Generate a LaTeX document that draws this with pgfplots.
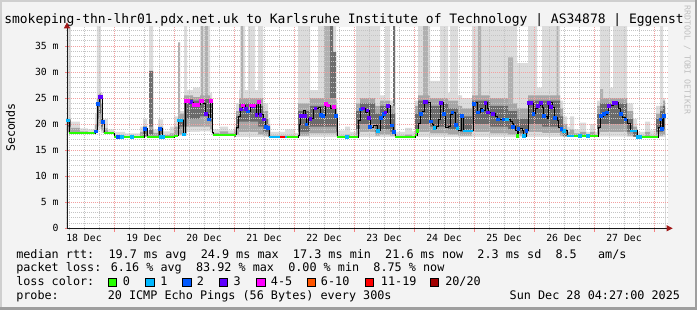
\documentclass[border=0pt]{standalone}
\usepackage{pgfplots}
\pgfplotsset{compat=1.18}
\usepackage{pgfplotstable}
\usepackage{fontspec}
\setmainfont{DejaVu Sans Mono}
\usetikzlibrary{arrows.meta}

\definecolor{bgc}{HTML}{F3F3F3}
\definecolor{shadea}{HTML}{CFCFCF}
\definecolor{shadeb}{HTML}{9E9E9E}
\definecolor{mgrid}{HTML}{F2A0A0}
\definecolor{gridc}{HTML}{C4C4C4}
\definecolor{arrowred}{HTML}{A01818}
\definecolor{s1}{HTML}{DCDCDC}
\definecolor{s2}{HTML}{A6A6A6}
\definecolor{s3}{HTML}{6A6A6A}
\definecolor{smc}{HTML}{B0B0B0}
\definecolor{sdc}{HTML}{6E6E6E}
\definecolor{L0}{HTML}{26FF00}
\definecolor{L1}{HTML}{00B8FF}
\definecolor{L2}{HTML}{0059FF}
\definecolor{L3}{HTML}{5E00FF}
\definecolor{L4}{HTML}{FF00FF}
\definecolor{L6}{HTML}{FF5500}
\definecolor{L11}{HTML}{FF0000}
\definecolor{L20}{HTML}{A10000}
\definecolor{wm}{HTML}{C0C0C0}

\newcommand\fT{\fontsize{9.73}{11}\selectfont}
\newcommand\fL{\fontsize{8.84}{10}\selectfont}
\newcommand\fA{\fontsize{7.35}{8.5}\selectfont}
\newcommand\fU{\fontsize{8.7}{10}\selectfont}
\newcommand\fW{\fontsize{6.2}{7}\selectfont}

% smoke: time in hours from 18 Dec 00:00, values in ms
\pgfplotstableread{
t l1 l2 l3 u3 u2 u1
5.2 18.3 18.5 19.5 20.7 21.0 40
6.8 18.3 18.3 18.3 18.3 19.3 20.5
10.4 18.3 18.3 18.3 18.3 18.6 19.2
13.6 18.3 18.3 18.3 18.3 18.3 19.0
16.4 18.3 18.5 18.7 19.0 20.0 22.0
17.2 18.5 19.5 21.0 24.2 25.0 40
18.0 19.0 20.0 22.0 25.6 26.0 40
18.8 18.3 18.8 19.5 21.0 24.0 26.0
19.6 18.3 18.3 18.3 18.5 19.2 21.0
21.6 18.3 18.3 18.3 18.3 18.5 19.0
24.0 17.5 17.5 17.5 17.5 17.8 18.5
28.4 17.5 17.5 17.5 17.5 17.7 18.2
34.4 17.5 17.5 17.5 17.5 18.5 19.5
35.6 17.5 17.5 17.8 19.2 19.6 21.0
37.2 17.5 17.5 17.5 17.6 18.0 18.8
38.0 17.5 17.6 18.0 19.0 19.5 40
39.6 17.5 17.5 17.5 17.6 18.3 19.0
41.6 17.5 17.5 17.6 19.1 19.5 20.9
43.6 17.5 17.5 17.5 17.5 17.9 18.6
46.4 17.5 17.5 17.5 17.5 18.2 19.5
48.0 17.5 17.5 17.5 18.0 19.5 21.5
49.6 17.8 18.0 19.0 21.0 21.5 22.0
50.4 17.8 18.0 19.5 21.0 22.0 22.5
52.0 17.8 18.2 19.5 24.8 25.5 40
53.2 18.5 19.5 21.0 24.8 25.5 26.5
55.6 18.5 19.5 21.0 24.5 25.2 27.0
58.4 18.6 19.5 21.5 24.8 25.5 40
62.4 18.4 19.0 20.5 24.6 25.0 26.0
63.2 18.0 18.0 18.0 18.0 18.3 19.0
66.4 18.0 18.0 18.0 18.0 18.6 19.5
69.6 18.0 18.0 18.0 18.0 18.2 18.8
72.0 17.5 17.5 17.5 18.2 18.8 19.5
72.8 17.5 18.0 19.0 21.5 22.5 24.0
74.0 17.5 18.5 20.5 24.0 25.0 26.5
74.4 17.5 18.5 20.5 24.0 25.0 40
76.4 17.5 18.5 20.5 24.0 25.0 26.5
77.6 17.5 18.5 20.5 24.0 25.0 40
80.4 17.5 18.5 20.5 24.0 25.0 26.5
81.6 17.5 18.0 19.5 23.5 25.0 40
83.6 17.5 17.8 18.5 21.0 22.5 24.0
85.6 17.5 17.5 17.5 19.5 20.0 21.0
86.4 17.5 17.5 17.5 17.5 17.8 18.5
92.4 17.5 17.5 17.5 17.5 17.8 19.0
96.4 17.5 17.5 17.5 17.5 17.7 18.3
97.6 17.5 17.8 18.5 22.5 24.0 40
102.4 17.5 18.2 19.5 23.5 25.0 26.5
105.6 17.5 18.2 19.5 23.5 25.0 40
112.8 17.5 17.8 18.5 21.5 23.0 24.5
113.2 17.5 17.5 17.5 17.5 17.8 18.8
116.4 17.5 17.5 17.5 17.5 18.0 19.5
118.4 17.5 17.5 17.5 17.5 17.7 18.5
120.8 17.5 17.8 19.0 22.5 24.0 40
122.4 17.5 18.5 20.0 24.0 25.0 40
128.4 17.5 17.8 18.5 22.0 23.5 40
130.4 17.5 18.0 19.0 23.5 24.5 25.5
132.4 17.5 18.0 19.0 23.5 24.5 40
134.4 17.5 17.8 18.5 22.0 23.5 24.5
135.6 17.5 17.8 18.5 22.0 23.5 40
136.4 17.5 17.5 17.5 17.5 17.8 18.5
140.4 17.5 17.5 17.5 17.5 18.0 19.3
143.2 17.5 17.5 17.5 17.5 17.7 18.6
144.4 17.5 18.0 19.0 22.0 23.5 24.5
145.6 17.5 18.5 20.0 24.5 25.5 40
150.4 17.5 18.2 19.5 23.5 25.0 28.3
154.4 17.5 18.2 19.5 24.0 25.0 40
157.6 17.5 18.0 19.0 23.0 24.5 26.0
158.4 17.5 18.0 19.0 23.0 24.5 40
161.6 17.5 17.8 18.5 22.0 23.5 25.5
163.2 17.5 17.8 18.5 21.5 23.0 25.0
167.2 17.5 18.5 20.0 24.5 25.5 40
174.4 17.5 18.2 19.5 23.5 25.0 40
181.6 17.5 18.0 19.0 22.5 24.0 40
185.2 17.5 17.8 18.2 21.0 23.0 31.7
189.6 17.5 18.5 20.0 24.5 25.5 40
193.2 17.5 18.5 20.0 24.5 25.5 27.0
195.2 17.5 18.3 19.5 24.5 25.5 40
202.4 17.5 17.8 18.5 21.5 23.0 24.5
203.6 17.5 17.6 17.7 19.0 20.0 21.5
205.2 17.5 17.6 17.7 17.8 18.5 19.5
206.4 17.5 17.6 17.7 17.8 19.0 21.5
208.0 17.5 17.6 17.7 17.7 18.2 19.0
210.4 17.5 17.6 17.7 17.7 18.5 20.3
212.8 17.5 17.6 17.7 17.7 18.0 18.5
214.4 17.5 17.6 17.7 17.7 18.5 20.0
216.4 17.5 17.6 17.7 17.7 18.0 18.5
217.2 17.6 18.0 19.0 22.0 23.5 24.5
218.4 17.6 18.5 20.0 24.0 25.0 40
222.4 17.6 18.5 20.0 24.0 25.0 27.0
223.6 17.6 18.5 20.0 24.0 25.0 40
229.2 17.5 17.8 18.5 21.0 22.5 24.0
231.6 17.5 17.5 17.6 18.5 19.5 21.0
233.2 17.5 17.5 17.5 17.5 17.8 18.5
236.4 17.5 17.5 17.5 17.5 18.5 20.5
238.4 17.5 17.5 17.5 17.5 17.8 18.8
240.8 17.5 17.8 18.5 21.0 22.0 23.5
242.4 17.5 17.8 18.5 22.5 23.5 40
243.6 17.5 18.0 19.0 23.5 24.5 25.0
244.4 17.5 18.0 19.0 23.5 24.5 25.0
}\smoke

\pgfplotstableread{
t v
5.2 0
49.6 35.7
50.4 0
58.8 40
59.6 0
60.4 40
61.6 0
74.8 40
75.6 0
108.0 40
110.4 0
147.6 40
149.6 0
169.6 40
170.8 0
181.6 32.8
183.6 0
201.0 40
201.7 0
218.4 26.7
219.6 0
244.4 0
}\spkm

\pgfplotstableread{
t v
5.2 0
38.0 30.2
39.6 0
110.4 40
111.6 33.8
112.8 0
135.6 40
136.4 0
244.4 0
}\spkd

\pgfplotstableread{
t v
5.2 20.7
6.0 18.3
16.4 18.6
17.2 23.8
18.0 25.2
19.2 20.4
20.0 18.3
24.0 17.5
36.0 19.1
37.2 17.5
42.0 19.1
43.2 17.5
48.0 17.8
49.6 20.7
51.6 18.0
52.4 24.4
54.4 24.2
55.6 23.7
58.4 24.4
59.6 23.9
60.4 21.9
61.6 20.9
62.4 24.4
63.2 18.4
63.6 18.0
72.8 19.3
73.6 21.4
74.4 22.8
75.2 23.6
76.4 22.9
77.2 22.4
78.4 23.6
79.6 23.4
80.0 23.6
80.8 21.8
81.6 24.2
82.4 21.8
83.6 20.9
84.4 19.4
85.6 19.2
86.0 17.5
97.6 17.9
98.0 20.0
98.4 21.5
99.6 22.6
100.4 21.5
100.8 19.9
101.6 21.0
103.6 22.8
104.4 23.0
105.6 23.2
106.4 21.8
107.2 21.6
108.4 23.8
109.6 23.6
110.4 23.1
111.6 23.3
112.4 21.5
113.2 17.5
121.6 20.8
122.4 22.8
123.2 23.0
124.4 22.2
125.2 22.6
126.0 21.2
126.4 19.4
127.6 19.7
129.2 18.7
130.4 21.2
131.6 21.9
132.4 22.2
133.2 23.5
134.4 20.0
135.2 19.7
135.6 18.5
136.4 17.5
144.4 17.9
145.2 18.7
145.6 20.2
146.4 21.9
147.2 22.4
148.0 24.3
149.2 24.1
150.4 20.5
151.2 20.0
151.6 19.2
152.8 19.5
153.6 20.9
154.4 24.1
155.6 22.0
156.4 19.4
157.6 19.6
158.4 21.9
159.2 22.2
160.4 19.8
161.2 19.2
161.6 18.8
162.8 21.5
163.6 18.7
167.6 23.8
168.4 24.1
169.2 22.2
170.4 23.1
171.2 22.6
172.4 24.1
173.2 23.1
173.6 22.2
175.2 22.0
176.4 21.5
177.2 20.9
182.4 20.6
183.2 20.2
183.6 19.5
184.4 18.7
185.2 17.7
185.6 19.1
187.2 18.8
187.6 17.7
188.8 18.7
189.6 24.1
191.2 24.0
191.6 22.0
192.4 23.0
193.2 23.5
194.4 24.1
195.2 23.3
195.6 21.5
197.2 21.0
197.6 24.1
199.2 23.3
200.0 21.2
201.2 20.8
201.6 19.4
202.8 19.0
203.6 18.7
205.2 17.7
217.6 19.4
218.4 21.5
219.6 21.9
221.2 22.2
221.6 23.5
223.6 24.1
225.6 23.0
226.4 22.0
227.2 21.2
228.4 20.9
229.2 20.2
230.4 18.7
233.2 17.5
241.6 19.4
242.4 20.9
243.2 19.0
243.6 21.5
244.4 21.6
}\med

\pgfplotsset{
  chartgeom/.style={
    at={(50.25pt,61.275pt)}, anchor=south west,
    scale only axis, width=450.75pt, height=150.975pt,
    xmin=5.2, xmax=245.6, ymin=0, ymax=38.64,
  },
  lossmark/.style={only marks, color=#1, mark=square*, mark size=1.0pt, mark options={solid, draw=#1, fill=#1, line width=0pt}},
  lossseg/.style={draw=#1, line width=1.5pt},
}

\begin{document}
\begin{tikzpicture}[x=0.75pt,y=0.75pt]
\useasboundingbox (0,0) rectangle (697,310);
\fill[bgc] (0,0) rectangle (697,310);
\fill[shadea] (0,308) rectangle (697,310);
\fill[shadea] (0,0) rectangle (2,310);
\fill[shadeb] (0,0) rectangle (697,2.5);
\fill[shadeb] (695,0) rectangle (697,310);

\begin{axis}[chartgeom,
  axis lines=left,
  axis line style={draw=black!90, line width=0.6pt, -{Triangle[length=4.5pt,width=4.5pt,color=arrowred]}, shorten >=-3.5pt},
  axis on top,
  axis background/.style={fill=white},
  xtick={24,48,...,240}, xticklabels={},
  minor xtick={6,12,18,30,36,42,54,60,66,78,84,90,102,108,114,126,132,138,150,156,162,174,180,186,198,204,210,222,228,234},
  ytick={0,5,...,35},
  yticklabels={0,5 m,10 m,15 m,20 m,25 m,30 m,35 m},
  minor ytick={1,2,3,4,6,7,8,9,11,12,13,14,16,17,18,19,21,22,23,24,26,27,28,29,31,32,33,34,36,37,38},
  grid=both,
  major grid style={draw=mgrid, line width=0.6pt, dash pattern=on 0.75pt off 0.75pt},
  minor grid style={draw=gridc, line width=0.6pt, dash pattern=on 0.75pt off 0.75pt},
  xtick align=outside, ytick align=center,
  major tick length=2.5pt, minor tick length=1.5pt,
  major tick style={draw=mgrid!80!red, line width=0.6pt},
  minor tick style={draw=gridc, line width=0.6pt},
  extra x ticks={12,36,60,84,108,132,156,180,204,228},
  extra x tick labels={18 Dec,19 Dec,20 Dec,21 Dec,22 Dec,23 Dec,24 Dec,25 Dec,26 Dec,27 Dec},
  extra x tick style={grid=none, major tick length=0pt},
  ticklabel style={font=\fA, text=black},
  yticklabel style={xshift=-1.5pt},
  xticklabel style={yshift=-0.8pt},
]
\addplot[const plot, draw=none, fill=s1] table[x=t,y=u1]{\smoke} \closedcycle;
\addplot[const plot, draw=none, fill=smc] table[x=t,y=v]{\spkm} \closedcycle;
\addplot[const plot, draw=none, fill=sdc] table[x=t,y=v]{\spkd} \closedcycle;
\addplot[const plot, draw=none, fill=s2] table[x=t,y=u2]{\smoke} \closedcycle;
\addplot[const plot, draw=none, fill=s3] table[x=t,y=u3]{\smoke} \closedcycle;
\addplot[const plot, draw=none, fill=s2] table[x=t,y=l3]{\smoke} \closedcycle;
\addplot[const plot, draw=none, fill=s1] table[x=t,y=l2]{\smoke} \closedcycle;
\addplot[const plot, draw=none, fill=white] table[x=t,y=l1]{\smoke} \closedcycle;
\end{axis}

\begin{axis}[chartgeom, hide axis]
\addplot[const plot, draw=black, line width=0.6pt] table[x=t,y=v]{\med};
% loss-free (green) stretches of the median
\addplot[lossseg=L0] coordinates {(6.0,18.3) (16.4,18.3)};
\addplot[lossseg=L0] coordinates {(20.0,18.3) (24.0,18.3)};
\addplot[lossseg=L0] coordinates {(24.0,17.5) (36.0,17.5)};
\addplot[lossseg=L0] coordinates {(37.2,17.5) (42.0,17.5)};
\addplot[lossseg=L0] coordinates {(43.2,17.5) (48.0,17.5)};
\addplot[lossseg=L0] coordinates {(48.0,17.8) (49.6,17.8)};
\addplot[lossseg=L0] coordinates {(63.6,18.0) (72.8,18.0)};
\addplot[lossseg=L0] coordinates {(93.2,17.5) (97.6,17.5)};
\addplot[lossseg=L0] coordinates {(113.2,17.5) (121.6,17.5)};
\addplot[lossseg=L0] coordinates {(136.4,17.5) (144.4,17.5)};
\addplot[lossseg=L0] coordinates {(144.4,17.9) (145.2,17.9)};
\addplot[lossseg=L0] coordinates {(208.0,17.7) (217.6,17.7)};
\addplot[lossseg=L0] coordinates {(233.2,17.5) (241.6,17.5)};
\addplot[lossseg=L1] coordinates {(86.0,17.5) (90.4,17.5)};
\addplot[lossseg=L11] coordinates {(90.4,17.5) (92.4,17.5)};
\addplot[lossseg=L1] coordinates {(92.4,17.5) (93.2,17.5)};
\addplot[lossseg=L1] coordinates {(163.6,18.7) (167.4,18.7)};
\addplot[lossseg=L1] coordinates {(205.2,17.7) (208.0,17.7)};
\addplot[lossseg=L1] coordinates {(230.4,18.7) (233.0,18.7)};
% loss-coloured median points
\addplot[lossmark=L0] coordinates {(145.4,18.7) (185.4,17.7)};
\addplot[lossmark=L1] coordinates {(5.5,20.7) (26.4,17.5) (27.4,17.5) (31.2,17.5) (42.6,17.5) (43.6,17.5) (50.0,20.7) (51.0,20.7) (51.9,18.0) (117.2,17.5) (129.6,18.7) (152.2,19.2) (161.4,19.2) (181.2,20.9) (187.9,17.7) (203.9,18.7) (210.4,17.7) (213.6,17.7) (233.6,17.5) (234.4,17.5)};
\addplot[lossmark=L2] coordinates {(16.7,18.6) (17.5,23.8) (19.5,20.4) (25.6,17.5) (36.5,19.1) (42.3,19.1) (61.9,20.9) (77.6,22.4) (84.7,19.4) (85.7,19.2) (101.0,19.9) (106.8,21.8) (107.6,21.6) (112.7,21.5) (122.7,22.8) (126.5,19.4) (130.7,21.2) (131.9,21.9) (135.3,19.7) (135.9,18.5) (146.7,21.9) (150.7,20.5) (155.9,22.0) (159.4,22.2) (160.7,19.8) (163.1,21.5) (167.9,23.8) (169.5,22.2) (171.4,22.6) (177.5,20.9) (179.8,20.9) (183.7,19.5) (185.8,19.1) (189.0,18.7) (191.8,22.0) (195.9,21.5) (200.3,21.2) (203.0,19.0) (218.7,21.5) (219.9,21.9) (221.3,22.2) (226.7,22.0) (228.6,20.9) (242.6,20.9) (243.3,19.0) (243.9,21.5)};
\addplot[lossmark=L3] coordinates {(18.3,25.2) (18.9,25.2) (54.7,24.2) (60.7,21.9) (74.7,22.8) (76.7,22.9) (79.7,23.4) (81.0,21.8) (82.6,21.8) (83.9,20.9) (98.7,21.5) (100.5,21.5) (102.6,21.0) (104.6,23.0) (123.5,23.0) (125.4,22.6) (126.1,21.2) (132.6,22.2) (133.5,23.5) (148.3,24.3) (148.9,24.3) (154.7,24.1) (172.6,24.1) (173.7,22.2) (175.5,22.0) (189.9,24.1) (190.8,24.0) (193.5,23.5) (194.7,24.1) (197.9,24.1) (198.7,23.3) (221.9,23.5) (223.9,24.1) (224.9,24.1)};
\addplot[lossmark=L4] coordinates {(52.7,24.4) (53.6,24.4) (56.0,23.7) (56.8,23.7) (57.6,23.7) (58.7,24.4) (59.2,24.4) (62.7,24.4) (75.5,23.6) (78.7,23.6) (80.2,23.6) (81.9,24.2) (108.7,23.8) (109.7,23.6) (111.9,23.3)};
\end{axis}

% title, unit label, watermark
\node[anchor=base west, inner sep=0pt, font=\fT] at (4,286.7) {smokeping-thn-lhr01.pdx.net.uk to Karlsruhe Institute of Technology | AS34878 | Eggenst};
\node[rotate=90, inner sep=0pt, font=\fU] at (10.5,182.5) {Seconds};
\node[rotate=-90, anchor=base west, inner sep=0pt, font=\fW, text=wm] at (684.5,305) {RRDTOOL / TOBI OETIKER};

% legend
\node[anchor=base west, inner sep=0pt, font=\fL] at (16,51.7) {median rtt:~~19.7 ms avg~~24.9 ms max~~17.3 ms min~~21.6 ms now~~2.3 ms sd~~8.5~~~am/s};
\node[anchor=base west, inner sep=0pt, font=\fL] at (16,38) {packet loss: 6.16 \% avg~~83.92 \% max~~0.00 \% min~~8.75 \% now};
\node[anchor=base west, inner sep=0pt, font=\fL] at (16,24) {loss color:};
\foreach \bx/\tx/\c/\lab in {108.3/122.7/L0/0, 145.7/160/L1/1, 182.7/196.7/L2/2, 219.3/233.3/L3/3, 256.7/270.7/L4/4-5, 307.3/320.7/L6/6-10, 365/380.7/L11/11-19, 430/445/L20/{20/20}}{
  \filldraw[fill=\c, draw=black, line width=0.75pt] (\bx,23.6) rectangle ++(8.3,8.2);
  \node[anchor=base west, inner sep=0pt, font=\fL] at (\tx,24) {\lab};
}
\node[anchor=base west, inner sep=0pt, font=\fL] at (16,10.3) {probe:};
\node[anchor=base west, inner sep=0pt, font=\fL] at (107.5,10.3) {20 ICMP Echo Pings (56 Bytes) every 300s};
\node[anchor=base east, inner sep=0pt, font=\fL] at (680.3,10.3) {Sun Dec 28 04:27:00 2025};
\end{tikzpicture}
\end{document}
